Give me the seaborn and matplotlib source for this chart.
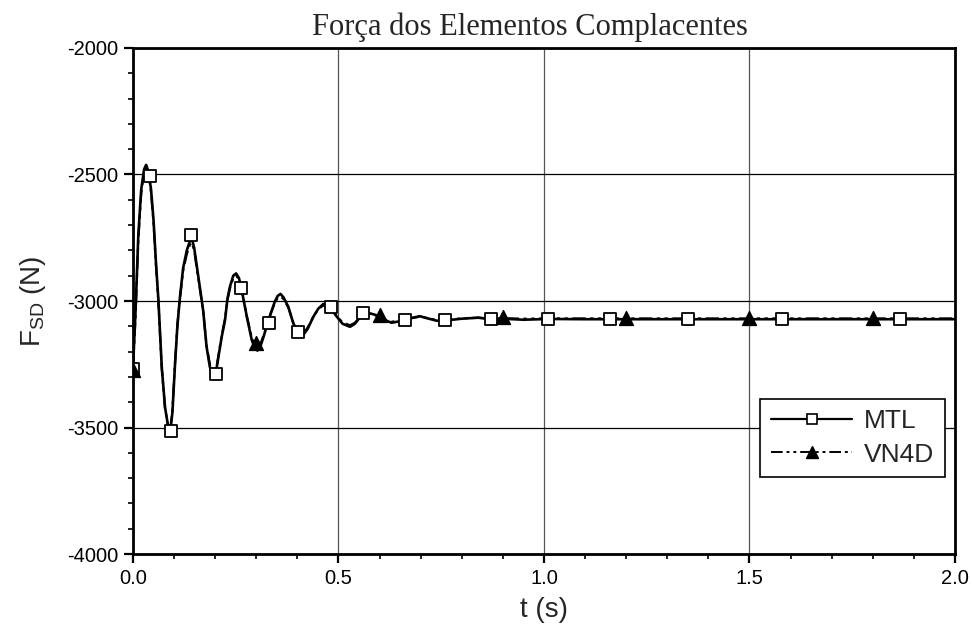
import matplotlib
matplotlib.use("Agg")
import matplotlib.pyplot as plt
from matplotlib.lines import Line2D
from matplotlib.ticker import MultipleLocator
import numpy as np
import pandas as pd
import seaborn as sns

# Compliant-element force, MTL model (solid line)
mtl_t = [0.000, 0.006, 0.013, 0.020, 0.027, 0.032, 0.038, 0.044, 0.050, 0.056,
         0.062, 0.070, 0.078, 0.086, 0.091, 0.096, 0.102, 0.108, 0.114, 0.122,
         0.131, 0.138, 0.143, 0.149, 0.156, 0.164, 0.171, 0.179, 0.187, 0.195,
         0.201, 0.208, 0.216, 0.224, 0.230, 0.236, 0.244, 0.251, 0.258, 0.265,
         0.277, 0.289, 0.296, 0.303, 0.310, 0.318, 0.325, 0.335, 0.345, 0.352,
         0.359, 0.366, 0.378, 0.390, 0.402, 0.414, 0.425, 0.439, 0.451, 0.463,
         0.472, 0.481, 0.496, 0.510, 0.528, 0.540, 0.552, 0.565, 0.577, 0.590,
         0.605, 0.629, 0.650, 0.665, 0.698, 0.720, 0.739, 0.760, 0.800, 0.840,
         0.871, 0.900, 0.950, 1.012, 1.100, 2.000]
mtl_f = [-3266, -3050, -2740, -2560, -2480, -2462, -2490, -2560, -2680, -2850,
         -3000, -3260, -3420, -3500, -3512, -3440, -3260, -3100, -2990, -2870,
         -2800, -2765, -2752, -2790, -2870, -2960, -3040, -3180, -3260, -3300,
         -3292, -3220, -3141, -3075, -2990, -2943, -2900, -2891, -2910, -2960,
         -3062, -3154, -3185, -3196, -3180, -3140, -3102, -3050, -3003, -2980,
         -2972, -2985, -3023, -3088, -3124, -3135, -3110, -3062, -3030, -3012,
         -3018, -3028, -3062, -3090, -3102, -3090, -3065, -3050, -3049, -3055,
         -3070, -3086, -3080, -3072, -3060, -3070, -3078, -3077, -3070, -3066,
         -3072, -3070, -3074, -3071, -3072, -3072]

# MTL output samples (square symbols)
mtl_mark_t = [0.000, 0.042, 0.092, 0.141, 0.201, 0.262, 0.332, 0.402, 0.481,
              0.560, 0.662, 0.760, 0.871, 1.010, 1.160, 1.350, 1.580, 1.865]
mtl_mark_f = [-3270, -2505, -3515, -2740, -3290, -2947, -3088, -3124, -3025,
              -3046, -3075, -3077, -3072, -3070, -3072, -3071, -3072, -3072]

# Compliant-element force, VN4D model (dash-dot line)
vn_t = [0.000, 0.006, 0.013, 0.020, 0.027, 0.032, 0.038, 0.044, 0.050, 0.056,
        0.062, 0.070, 0.078, 0.086, 0.091, 0.096, 0.102, 0.108, 0.114, 0.122,
        0.131, 0.138, 0.143, 0.149, 0.156, 0.164, 0.171, 0.179, 0.187, 0.195,
        0.201, 0.208, 0.216, 0.224, 0.230, 0.236, 0.244, 0.251, 0.258, 0.265,
        0.277, 0.289, 0.296, 0.303, 0.310, 0.318, 0.325, 0.335, 0.345, 0.352,
        0.359, 0.366, 0.378, 0.390, 0.402, 0.414, 0.425, 0.439, 0.451, 0.463,
        0.472, 0.481, 0.496, 0.510, 0.528, 0.540, 0.552, 0.565, 0.577, 0.590,
        0.605, 0.629, 0.650, 0.665, 0.698, 0.720, 0.739, 0.760, 0.800, 0.840,
        0.871, 0.900, 0.950, 1.012, 1.100, 2.000]
vn_f = [-3270, -3070, -2760, -2575, -2490, -2470, -2495, -2570, -2690, -2860,
        -3010, -3265, -3425, -3500, -3505, -3430, -3250, -3095, -2995, -2880,
        -2815, -2780, -2770, -2800, -2880, -2965, -3045, -3175, -3250, -3290,
        -3285, -3215, -3135, -3070, -2995, -2950, -2910, -2900, -2915, -2965,
        -3060, -3145, -3172, -3180, -3170, -3135, -3100, -3050, -3008, -2988,
        -2982, -2992, -3025, -3085, -3118, -3128, -3105, -3062, -3032, -3018,
        -3022, -3030, -3060, -3085, -3096, -3086, -3064, -3052, -3051, -3056,
        -3068, -3082, -3078, -3071, -3062, -3069, -3075, -3074, -3069, -3066,
        -3070, -3068, -3070, -3069, -3069, -3069]

# VN4D output samples (triangle symbols)
vn_mark_t = [0.0, 0.3, 0.6, 0.9, 1.2, 1.5, 1.8]
vn_mark_f = [-3272, -3165, -3055, -3065, -3068, -3068, -3068]

x_ticks = [0.0, 0.5, 1.0, 1.5, 2.0]
y_ticks = [-4000, -3500, -3000, -2500, -2000]

sns.set_style("ticks")
plt.rcParams["font.family"] = ["Liberation Sans", "DejaVu Sans"]
plt.rcParams["mathtext.default"] = "regular"

fig = plt.figure(figsize=(9.72, 6.39), dpi=100)
ax = fig.add_axes([0.1368, 0.133, 0.8457, 0.7919])

mtl_df = pd.DataFrame({"t": mtl_t, "F": mtl_f})
vn_df = pd.DataFrame({"t": vn_t, "F": vn_f})

sns.lineplot(data=vn_df, x="t", y="F", ax=ax, color="black", lw=1.6,
             sort=False, estimator=None, dashes=False, zorder=3)
ax.lines[-1].set_dashes([6, 2, 1.5, 2, 1.5, 2])
sns.lineplot(data=mtl_df, x="t", y="F", ax=ax, color="black", lw=1.9,
             sort=False, estimator=None, zorder=4)

sns.scatterplot(x=mtl_mark_t, y=mtl_mark_f, ax=ax, marker="s", s=72,
                facecolor="white", edgecolor="black", linewidth=1.3, zorder=5)
sns.scatterplot(x=vn_mark_t, y=vn_mark_f, ax=ax, marker="^", s=100,
                color="black", edgecolor="black", linewidth=1.0, zorder=6)

ax.set_xlim(0.0, 2.0)
ax.set_ylim(-4000, -2000)
ax.set_xticks(x_ticks)
ax.set_xticklabels([f"{v:.1f}" for v in x_ticks])
ax.set_yticks(y_ticks)
ax.set_yticklabels([str(v) for v in y_ticks])
ax.xaxis.set_minor_locator(MultipleLocator(0.1))
ax.yaxis.set_minor_locator(MultipleLocator(100))
ax.tick_params(which="major", direction="out", length=6.5, width=1.6,
               labelsize=14.5, colors="black", pad=4)
ax.tick_params(which="minor", direction="out", length=3.6, width=1.4)

ax.grid(True, which="major", color="black", lw=0.9)
for gl in ax.get_xgridlines():
    gl.set_color("#555555")
ax.set_axisbelow(True)

for sp in ax.spines.values():
    sp.set_linewidth(2.0)
    sp.set_color("black")

ax.set_xlabel("t (s)", fontsize=20, labelpad=7)
ax.set_ylabel("F$_{SD}$ (N)", fontsize=20, labelpad=14)
ax.set_title("Força dos Elementos Complacentes", fontsize=22,
             family=["Liberation Serif", "DejaVu Serif"], pad=9, x=0.483)

handles = [
    Line2D([], [], color="black", lw=1.6, marker="s", markersize=7.5,
           markerfacecolor="white", markeredgecolor="black", markeredgewidth=1.2),
    Line2D([], [], color="black", lw=1.4, dashes=[6, 2, 1.5, 2, 1.5, 2],
           marker="^", markersize=9, markerfacecolor="black",
           markeredgecolor="black"),
]
leg = ax.legend(handles, ["MTL", "VN4D"], loc="lower right",
                bbox_to_anchor=(0.988, 0.152), fontsize=19, handlelength=3.1,
                numpoints=1, fancybox=False, framealpha=1, edgecolor="black",
                borderpad=0.4, labelspacing=0.35, handletextpad=0.45,
                borderaxespad=0.0)
leg.get_frame().set_linewidth(1.2)

fig.savefig("out.png", dpi=100)
